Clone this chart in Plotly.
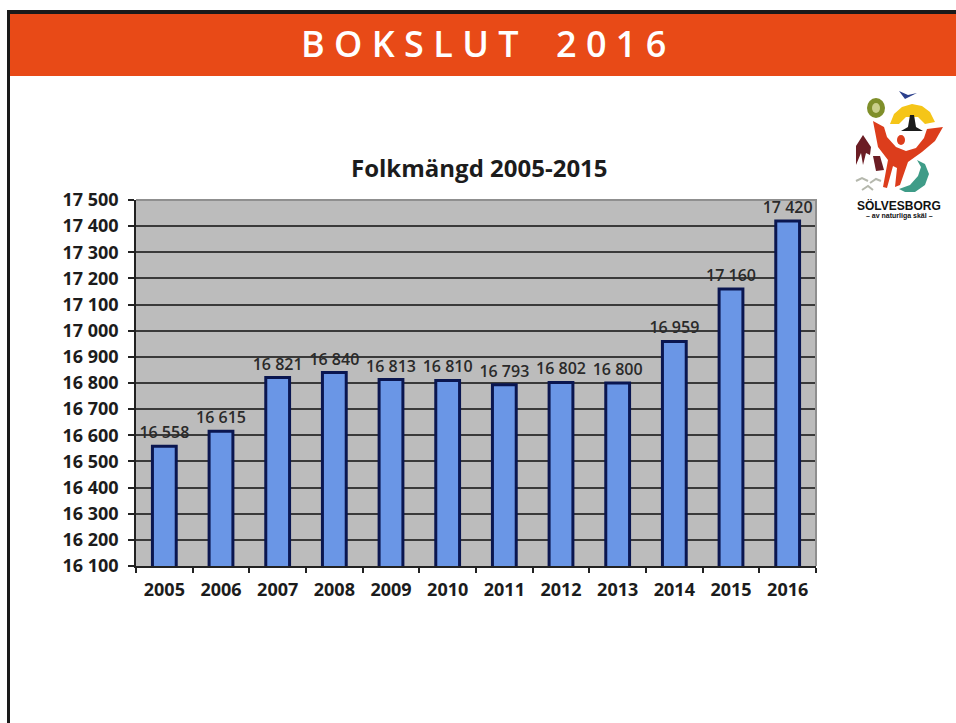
import plotly.graph_objects as go

years = ["2005","2006","2007","2008","2009","2010","2011","2012","2013","2014","2015","2016"]
population = [16558,16615,16821,16840,16813,16810,16793,16802,16800,16959,17160,17420]
bar_labels = ["16 558","16 615","16 821","16 840","16 813","16 810","16 793","16 802","16 800","16 959","17 160","17 420"]
tick_values = [16100,16200,16300,16400,16500,16600,16700,16800,16900,17000,17100,17200,17300,17400,17500]
tick_labels = ["16 100","16 200","16 300","16 400","16 500","16 600","16 700","16 800","16 900","17 000","17 100","17 200","17 300","17 400","17 500"]

W, H = 956, 723
L, R, T, B = 136, 816, 200, 566
FONT = "Open Sans"
DARK = "#1c1c1c"

def px(x): return (x - L) / (R - L)
def py(y): return (B - y) / (B - T)

def path(points, fill, line="rgba(0,0,0,0)", width=0, close=True):
    d = "M " + " L ".join(f"{px(x):.5f},{py(y):.5f}" for x, y in points) + (" Z" if close else "")
    return dict(type="path", xref="paper", yref="paper", path=d, fillcolor=fill if close else "rgba(0,0,0,0)",
                line=dict(color=line, width=width), layer="above")

def rect(x0, y0, x1, y1, fill, layer="below"):
    return dict(type="rect", xref="paper", yref="paper", x0=px(x0), x1=px(x1), y0=py(y0), y1=py(y1),
                fillcolor=fill, line=dict(width=0), layer=layer)

def oval(x0, y0, x1, y1, fill):
    return dict(type="circle", xref="paper", yref="paper", x0=px(x0), x1=px(x1), y0=py(y0), y1=py(y1),
                fillcolor=fill, line=dict(width=0), layer="above")

shapes = [
    rect(7, 14, 956, 76, "#e84a17"),
    rect(7, 10, 956, 14, "#1a1a1a"),
    rect(7, 10, 10, 723, "#1a1a1a"),
    # plot frame, top and right
    rect(136, 199, 816, 201, "#8f8f8f", "above"),
    rect(815, 199, 817, 566, "#8f8f8f", "above"),
    # logo
    path([(899,91),(905,99),(917,93),(908,95)], "#2b3f8c"),
    oval(867, 98, 885, 118, "#7f8f2a"),
    oval(872, 103, 880, 113, "#c9cf8a"),
    path([(890,124),(894,114),(902,107),(912,104),(922,106),(930,112),(935,122),(925,124),(918,117),(906,117),(899,124)], "#f5c518"),
    path([(901,131),(908,127),(910,115),(914,115),(916,127),(923,131)], "#1b1b1b"),
    path([(873,121),(884,127),(887,137),(896,147),(906,151),(916,148),(924,138),(927,129),(943,127),(935,141),(922,152),(908,162),(900,185),(895,187),(897,168),(893,166),(887,188),(883,187),(888,160),(878,147)], "#dc3d1c"),
    oval(897, 135, 905, 145, "#dc3d1c"),
    path([(856,165),(856,146),(863,135),(871,147),(870,155),(866,153),(863,165),(861,153)], "#6b1d24"),
    path([(873,156),(880,156),(884,170),(876,171)], "#6b1d24"),
    path([(899,189),(910,185),(918,176),(921,167),(917,160),(925,164),(929,174),(925,185),(915,192),(905,192)], "#3f9c88"),
    path([(856,181),(862,178),(868,181)], "#b5b8ad", "#b5b8ad", 2, close=False),
    path([(870,183),(876,179),(881,181)], "#b5b8ad", "#b5b8ad", 2, close=False),
    path([(862,190),(868,186),(873,190)], "#b5b8ad", "#b5b8ad", 2, close=False),
]

annotations = [
    dict(text="B O K S L U T \u00a0 \u00a02 0 1 6", x=px(483), y=py(43), xref="paper", yref="paper", showarrow=False,
         font=dict(family=FONT, size=36, color="white", weight=600), xanchor="center", yanchor="middle"),
    dict(text="Folkmängd 2005-2015", x=px(479), y=py(167), xref="paper", yref="paper", showarrow=False,
         font=dict(family=FONT, size=24, color=DARK, weight="bold"), xanchor="center", yanchor="middle"),
    dict(text="SÖLVESBORG", x=px(899), y=py(205), xref="paper", yref="paper", showarrow=False,
         font=dict(family="Liberation Sans", size=12, color="#111111", weight="bold"), xanchor="center", yanchor="middle"),
    dict(text="– av naturliga skäl –", x=px(899), y=py(216), xref="paper", yref="paper", showarrow=False,
         font=dict(family="Liberation Sans", size=7, color="#111111", weight="bold"), xanchor="center", yanchor="middle"),
]

fig = go.Figure(go.Bar(
    x=years, y=population, text=bar_labels, textposition="outside", cliponaxis=False,
    constraintext="none", textangle=0,
    textfont=dict(family=FONT, size=16, color="#2a2a2a", weight=600),
    marker=dict(color="#6a96e6", line=dict(color="#0a1650", width=3)),
    hoverinfo="skip",
))
fig.update_layout(
    width=W, height=H, autosize=False,
    margin=dict(l=L, r=W-R, t=T, b=H-B, pad=0),
    paper_bgcolor="white", plot_bgcolor="#bcbcbc",
    bargap=0.58, showlegend=False, shapes=shapes, annotations=annotations,
    xaxis=dict(type="category", tickson="boundaries", ticks="outside", ticklen=5, tickcolor="#222", tickwidth=1.5,
               showline=True, linecolor="#222", linewidth=1.5, showgrid=False,
               tickfont=dict(family=FONT, size=18, color=DARK, weight="bold"), ticklabelstandoff=7),
    yaxis=dict(range=[16100,17500], tickvals=tick_values, ticktext=tick_labels, ticks="outside", ticklen=6,
               tickcolor="#222", tickwidth=1.5, showline=True, linecolor="#222", linewidth=1.5,
               showgrid=True, gridcolor="#3a3a3a", gridwidth=1.5, zeroline=False,
               tickfont=dict(family=FONT, size=18, color=DARK, weight="bold"), ticklabelstandoff=6),
)
fig.write_html("out.html", config={"displayModeBar": False},
               post_script="document.body.style.margin='0';document.body.style.overflow='hidden';")
